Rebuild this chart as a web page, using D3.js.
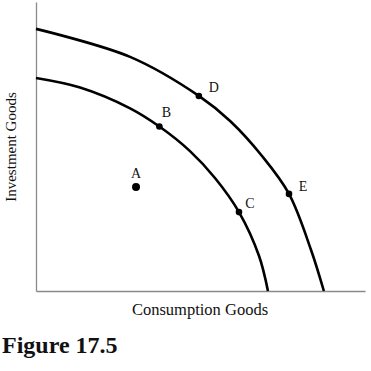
<!DOCTYPE html>
<html>
<head>
<meta charset="utf-8">
<script src="https://cdn.jsdelivr.net/npm/d3@7"></script>
<style>
  body { margin: 0; background: #fff; }
  svg { display: block; }
  text { font-family: "Liberation Serif", "Times New Roman", serif; fill: #111; }
</style>
</head>
<body>
<div id="chart"></div>
<script>
// curves (x = consumption, y = investment, 0-100 units)
const outerPPF = [
    [0, 90.7], [28.6, 81.0], [49.5, 67.5], [59.0, 58.8],
    [68.7, 46.7], [76.9, 33.6], [83.6, 14.2], [87.5, 0]
];
const innerPPF = [
    [0, 73.7], [13.4, 70.4], [28.6, 63.2], [37.5, 56.9], [46.8, 48.4],
    [54.4, 39.1], [61.7, 27.3], [67.8, 12.1], [70.5, 0]
];
const pointNames = ["A", "B", "C", "D", "E"];
const pointX = [30.4, 37.5, 61.7, 49.5, 76.9];
const pointY = [36.0, 56.9, 27.3, 67.5, 33.6];

function drawChart() {
    const svg = d3.select("#chart")
        .append("svg")
        .attr("width", 371)
        .attr("height", 371);

    const x = d3.scaleLinear().domain([0, 100]).range([36, 365]);
    const y = d3.scaleLinear().domain([0, 100]).range([291, 2]);

    // axes, no ticks
    svg.append("g")
        .attr("transform", "translate(0," + y(0) + ")")
        .call(d3.axisBottom(x).tickValues([]).tickSizeOuter(0))
        .select(".domain")
        .attr("stroke", "#8a8a8a")
        .attr("stroke-width", 1.3);

    svg.append("g")
        .attr("transform", "translate(" + x(0) + ",0)")
        .call(d3.axisLeft(y).tickValues([]).tickSizeOuter(0))
        .select(".domain")
        .attr("stroke", "#8a8a8a")
        .attr("stroke-width", 1.3);

    const line = d3.line()
        .x(d => x(d[0]))
        .y(d => y(d[1]))
        .curve(d3.curveCatmullRom.alpha(0.5));

    svg.selectAll(".ppf")
        .data([innerPPF, outerPPF])
        .enter()
        .append("path")
        .attr("class", "ppf")
        .attr("d", line)
        .attr("fill", "none")
        .attr("stroke", "#000")
        .attr("stroke-width", 2.6);

    const pts = pointNames.map((name, i) => ({ name, x: pointX[i], y: pointY[i] }));

    svg.selectAll(".dot")
        .data(pts)
        .enter()
        .append("circle")
        .attr("class", "dot")
        .attr("cx", d => x(d.x))
        .attr("cy", d => y(d.y))
        .attr("r", d => d.name === "A" ? 4 : 3.3)
        .attr("fill", "#000");

    // label offsets from each dot
    const offX = { A: 0, B: 7, C: 11, D: 15, E: 14 };
    const offY = { A: -9, B: -10, C: -4, D: -4, E: -3 };

    svg.selectAll(".lbl")
        .data(pts)
        .enter()
        .append("text")
        .attr("class", "lbl")
        .attr("x", d => x(d.x) + offX[d.name])
        .attr("y", d => y(d.y) + offY[d.name])
        .attr("text-anchor", "middle")
        .style("font-size", "14px")
        .text(d => d.name);

    svg.append("text")
        .attr("x", 200)
        .attr("y", 315)
        .attr("text-anchor", "middle")
        .style("font-size", "16.5px")
        .text("Consumption Goods");

    svg.append("text")
        .attr("transform", "translate(16,147) rotate(-90)")
        .attr("text-anchor", "middle")
        .style("font-size", "15px")
        .text("Investment Goods");

    svg.append("text")
        .attr("x", 2)
        .attr("y", 353)
        .style("font-size", "24px")
        .style("font-weight", "bold")
        .text("Figure 17.5");
}

drawChart();
</script>
</body>
</html>
